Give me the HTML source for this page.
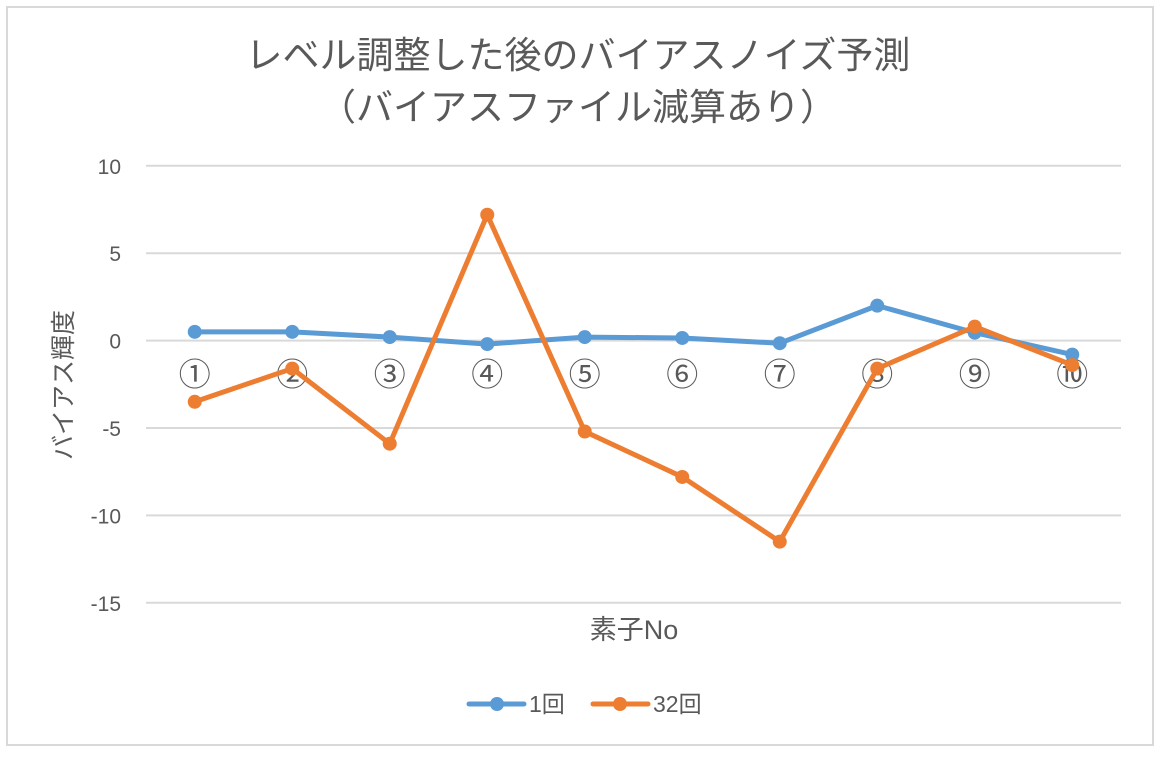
<!DOCTYPE html>
<html><head><meta charset="utf-8">
<style>
body{margin:0;background:#fff;}
svg text{font-family:"Liberation Sans","Noto Sans CJK JP",sans-serif;fill:#595959;}
</style></head>
<body>
<svg id="chart" width="1161" height="755" xmlns="http://www.w3.org/2000/svg">
<rect x="7" y="7" width="1146" height="738" fill="#fff" stroke="#d9d9d9" stroke-width="2"/>
<text x="578" y="68" font-size="37" text-anchor="middle">レベル調整した後のバイアスノイズ予測</text>
<text x="578" y="120" font-size="37" text-anchor="middle">（バイアスファイル減算あり）</text>
<g id="grid"></g>
<g id="yticks"></g>
<g id="xlabels"></g>
<g id="series"></g>
<text x="72" y="385" font-size="25" text-anchor="middle" transform="rotate(-90 72 385)">バイアス輝度</text>
<text x="634" y="639" font-size="27" text-anchor="middle">素子No</text>
<g>
<g>
<line x1="469" y1="704" x2="524" y2="704" stroke="#5b9bd5" stroke-width="5" stroke-linecap="round"/>
<circle cx="497" cy="704" r="7" fill="#5b9bd5"/>
<text x="529" y="712" font-size="23">1回</text>
</g>
<g>
<line x1="593" y1="704" x2="648" y2="704" stroke="#ed7d31" stroke-width="5" stroke-linecap="round"/>
<circle cx="620" cy="704" r="7" fill="#ed7d31"/>
<text x="653" y="712" font-size="23">32回</text>
</g>
</g>
</svg>
<script>
const categories=["①","②","③","④","⑤","⑥","⑦","⑧","⑨","⑩"];
const series1=[0.5,0.5,0.2,-0.2,0.2,0.15,-0.15,2.0,0.45,-0.8];
const series32=[-3.5,-1.6,-5.9,7.2,-5.2,-7.8,-11.5,-1.6,0.8,-1.4];
const yTicks=[10,5,0,-5,-10,-15];
const NS="http://www.w3.org/2000/svg";
const plotL=146,plotR=1121;
function yPos(v){return 340.6-v*17.48;}
function xPos(i){return plotL+(plotR-plotL)/categories.length*(i+0.5);}
function mk(tag,attrs,parent){const e=document.createElementNS(NS,tag);for(const k in attrs)e.setAttribute(k,attrs[k]);parent.appendChild(e);return e;}
const grid=document.getElementById('grid'),yt=document.getElementById('yticks'),xl=document.getElementById('xlabels'),sg=document.getElementById('series');
yTicks.forEach(t=>{
 const l=mk('line',{x1:plotL,x2:plotR,y1:yPos(t),y2:yPos(t),stroke:'#d9d9d9','stroke-width':2},grid);
 
 
 const tx=mk('text',{x:121,y:yPos(t)+8,'font-size':21,'text-anchor':'end'},yt);
 tx.textContent=t;
 
 
});
categories.forEach((c,i)=>{
 const tx=mk('text',{x:xPos(i),y:yPos(0)+45,'font-size':32,'text-anchor':'middle'},xl);
 tx.textContent=c;
 
 
});
function draw(vals,color,name){
 const g=mk('g',{},sg);
 
 
 const p=mk('polyline',{points:vals.map((v,i)=>xPos(i)+','+yPos(v)).join(' '),fill:'none',stroke:color,'stroke-width':5,'stroke-linejoin':'round','stroke-linecap':'round'},g);
 
 
 vals.forEach((v,i)=>{
  const c=mk('circle',{cx:xPos(i),cy:yPos(v),r:7,fill:color},g);
  
  
 });
}
draw(series1,'#5b9bd5','1');
draw(series32,'#ed7d31','32');
</script>
</body></html>
